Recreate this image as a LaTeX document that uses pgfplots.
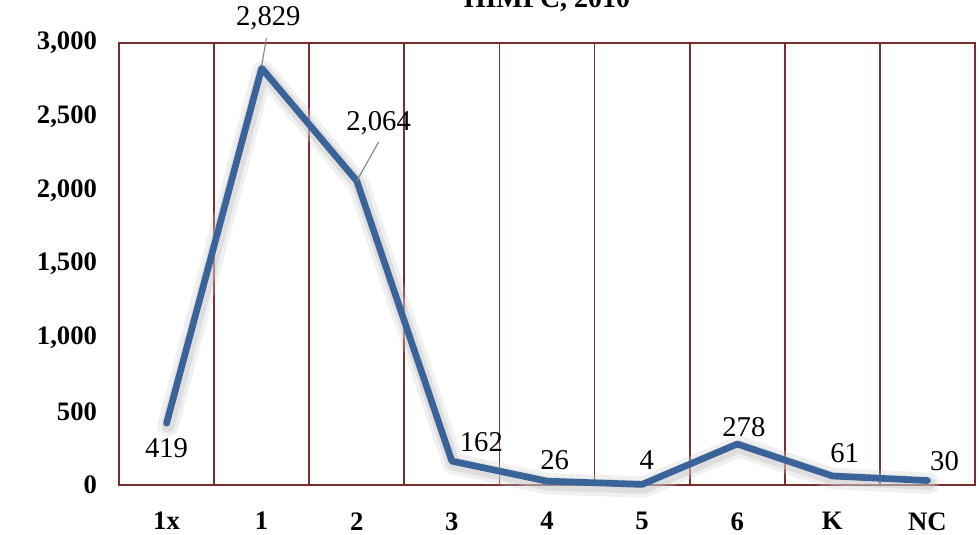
\documentclass[border=0pt]{standalone}
\usepackage{pgfplots}
\pgfplotsset{compat=1.18}
\usepackage{fontspec}
\setmainfont{Liberation Serif}
\usetikzlibrary{calc}
\definecolor{linebl}{HTML}{3A6399}
\definecolor{gridred}{HTML}{7A2E2E}
\begin{document}
\begin{tikzpicture}
\begin{axis}[
  name=ax,
  scale only axis,
  width=642pt, height=331.5pt,
  xmin=-0.5, xmax=8.5, ymin=0, ymax=3000,
  xtick={0,...,8},
  xticklabels={1x,1,2,3,4,5,6,K,NC},
  extra x ticks={0.5,1.5,...,7.5},
  extra x tick labels={},
  extra x tick style={grid=major, major grid style={gridred, line width=1.3pt}, major tick length=0pt},
  ytick={0,500,...,3000},
  major tick length=0pt,
  axis line style={gridred, line width=1.3pt},
  tick label style={font=\fontsize{20}{22}\selectfont\bfseries},
  /pgf/number format/assume math mode=true,
  /pgf/number format/1000 sep={,},
  yticklabel style={xshift=-13pt},
  xticklabel style={yshift=-17pt},
  clip=false,
]
\addplot[gray!40, line width=16pt, opacity=0.3, line join=round, line cap=round, shift={(1pt,-2pt)}] coordinates {
(0,419) (1,2829) (2,2064) (3,162) (4,26) (5,4) (6,278) (7,61) (8,30)};
\addplot[gray!45, line width=10pt, opacity=0.4, line join=round, line cap=round, shift={(1pt,-2pt)}] coordinates {
(0,419) (1,2829) (2,2064) (3,162) (4,26) (5,4) (6,278) (7,61) (8,30)};
\addplot[linebl, line width=5pt, line join=round, line cap=round, mark=none] coordinates {
(0,419) (1,2829) (2,2064) (3,162) (4,26) (5,4) (6,278) (7,61) (8,30)};
\draw[gray, line width=0.8pt] (axis cs:1.05,3034) -- (axis cs:1.0,2844);
\draw[gray, line width=0.8pt] (axis cs:2.23,2328) -- (axis cs:2.0,2064);
\begin{scope}[every node/.style={font=\fontsize{21.5}{23}\selectfont}]
\node at (axis cs:0,251) {419};
\node at (axis cs:1.07,3170) {2,829};
\node at (axis cs:2.23,2457) {2,064};
\node at (axis cs:3.31,292) {162};
\node at (axis cs:4.08,170) {26};
\node at (axis cs:5.05,170) {4};
\node at (axis cs:6.07,394) {278};
\node at (axis cs:7.13,217) {61};
\node at (axis cs:8.18,163) {30};
\end{scope}
\end{axis}
\node[font=\fontsize{21}{23}\selectfont\bfseries, anchor=base] at ($(ax.north)+(0,26.5pt)$) {HIMPC, 2010};
\pgfresetboundingbox
\useasboundingbox ($(ax.south west)+(-89.25pt,-37.5pt)$) rectangle ($(ax.north east)+(3pt,32.25pt)$);
\end{tikzpicture}
\end{document}
